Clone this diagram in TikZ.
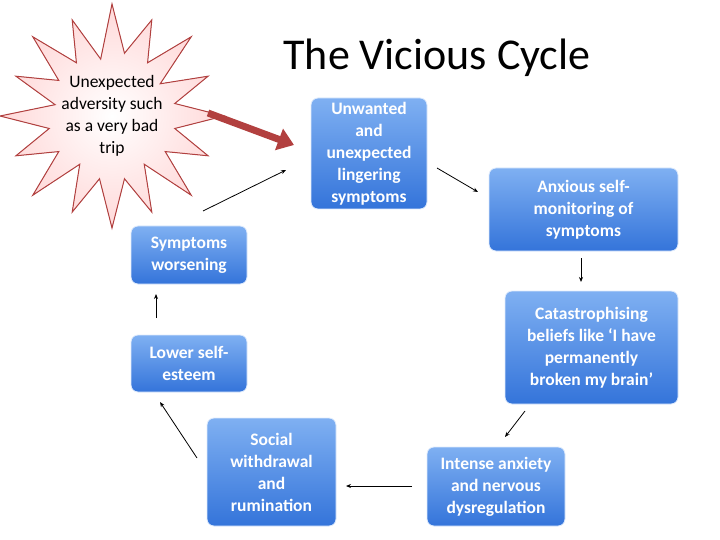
\documentclass[tikz,border=0pt]{standalone}
\usepackage{fontspec}
\setmainfont{Carlito}
\usetikzlibrary{arrows.meta}
\definecolor{btop}{HTML}{7FB0F2}
\definecolor{bbot}{HTML}{3474DA}
\definecolor{sred}{HTML}{B2403F}
\begin{document}
\begin{tikzpicture}[x=1pt,y=-1pt,
  box/.style={rounded corners=7pt,draw=white!75!btop,line width=0.8pt,top color=btop,bottom color=bbot,text=white,align=center,font=\fontsize{17.5}{22}\selectfont\bfseries,inner sep=2pt},
  arr/.style={-{Stealth[length=5pt,width=4pt]},line width=0.8pt}]
\useasboundingbox (0,0) rectangle (720,540);
\node[font=\fontsize{44}{50}\selectfont] (title) at (437,58) {The Vicious Cycle};
\begin{scope}[shift={(112,116)}]
\filldraw[draw=sred,line width=1pt,inner color=white,outer color=red!15]
 (0:112) \foreach \i in {1,...,16}{ -- ({(\i-0.5)*22.5}:{ifthenelse(mod(\i,3)==0,58,64)}) -- ({\i*22.5}:{ifthenelse(mod(\i,2)==0,112,104)}) } -- cycle;
\end{scope}
\node[align=center,font=\fontsize{17.5}{22}\selectfont] (star) at (112,116) {Unexpected\\adversity such\\as a very bad\\trip};
\node[box,minimum width=116pt,minimum height=111pt] (b1) at (369,153.5) {Unwanted\\and\\unexpected\\lingering\\symptoms};
\node[box,minimum width=189pt,minimum height=83pt] (b2) at (583.5,209.5) {Anxious self-\\monitoring of\\symptoms};
\node[box,minimum width=173pt,minimum height=113pt] (b3) at (591.5,347.5) {Catastrophising\\beliefs like ‘I have\\permanently\\broken my brain’};
\node[box,minimum width=138pt,minimum height=79pt] (b4) at (496,486.5) {Intense anxiety\\and nervous\\dysregulation};
\node[box,minimum width=129pt,minimum height=108pt] (b5) at (271.5,472) {Social\\withdrawal\\and\\rumination};
\node[box,minimum width=116pt,minimum height=57pt] (b6) at (189,363.5) {Lower self-\\esteem};
\node[box,minimum width=116pt,minimum height=58pt] (b7) at (189,255) {Symptoms\\worsening};
\coordinate (r1) at (208,113); \coordinate (r2) at (294,145);
\draw[-{Triangle[length=16pt,width=22pt]},line width=7pt,draw=sred,fill=sred] (r1) -- (r2);
\foreach \a/\b/\c/\d [count=\k] in {437/168/478/192, 581/258/581/282, 525/411/505/437, 412/486/346/486, 197/458/160/402, 156/318/156/294, 203/211/286/170}{
  \coordinate (s\k) at (\a,\b); \coordinate (e\k) at (\c,\d);
  \draw[arr] (s\k) -- (e\k);}
\end{tikzpicture}
\end{document}
